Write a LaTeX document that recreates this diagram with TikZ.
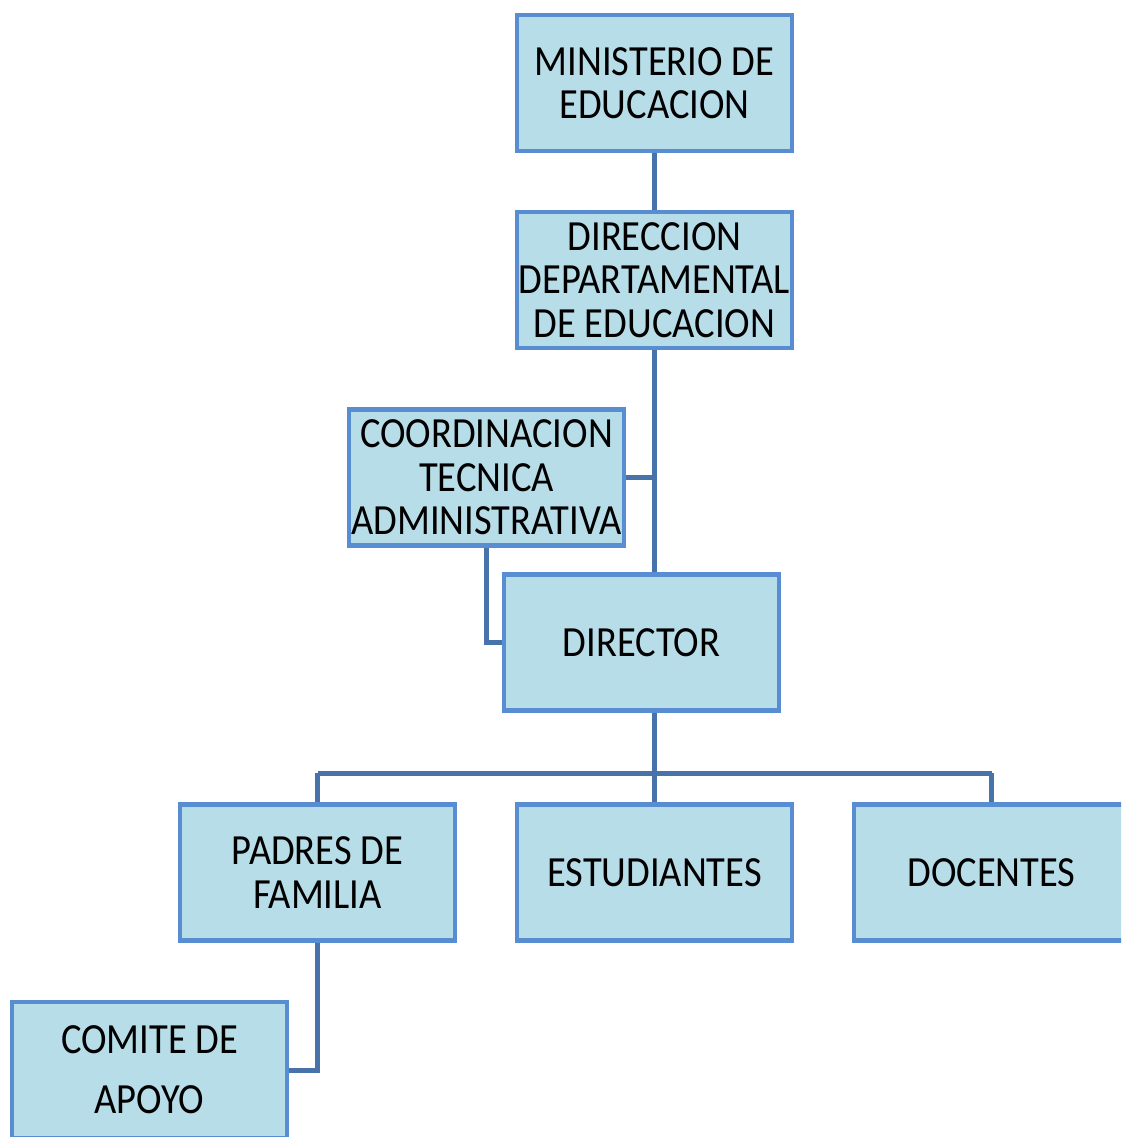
\documentclass[tikz,border=0pt]{standalone}
\usepackage{fontspec}
\setmainfont{Carlito}[FakeStretch=0.895]
\definecolor{fillc}{RGB}{183,221,232}
\definecolor{bordc}{RGB}{88,141,209}
\definecolor{connc}{RGB}{72,114,170}
\begin{document}
\begin{tikzpicture}[x=1pt,y=-1pt,
  box/.style={draw=bordc, fill=fillc, line width=4.5pt, minimum width=275pt, minimum height=136pt, inner sep=0pt, align=center, font=\fontsize{43}{43.5}\selectfont},
  conn/.style={draw=connc, line width=5pt}]
\useasboundingbox (0,0) rectangle (1121,1137);
\clip (0,0) rectangle (1121,1137);
\node[box] (min) at (654.5,83) {MINISTERIO DE\\EDUCACION};
\node[box] (dir) at (654.5,280) {DIRECCION\\DEPARTAMENTAL\\DE EDUCACION};
\node[box] (coord) at (486.5,477.5) {COORDINACION\\TECNICA\\ADMINISTRATIVA};
\node[box] (director) at (641.5,642.5) {DIRECTOR};
\node[box] (padres) at (317.5,872.5) {PADRES DE\\FAMILIA};
\node[box] (est) at (654.5,872.5) {ESTUDIANTES};
\node[box] (doc) at (991.5,872.5) {DOCENTES};
\node[box, font=\fontsize{43}{60}\selectfont] (comite) at (149.5,1070) {COMITE DE\\APOYO};
\coordinate (bus) at (654.5,773);
\draw[conn] (min.south) -- (dir.north);
\draw[conn] (dir.south) -- (dir.south |- director.north);
\draw[conn] (coord.east) -- (coord.east -| dir.south);
\draw[conn] (coord.south) |- (director.west);
\draw[conn] (bus |- director.south) -- (bus);
\draw[conn] (bus -| padres.north) -- (bus -| doc.north);
\draw[conn] (bus -| padres.north) -- (padres.north);
\draw[conn] (bus) -- (est.north);
\draw[conn] (bus -| doc.north) -- (doc.north);
\draw[conn] (padres.south) |- (comite.east);
\end{tikzpicture}
\end{document}
